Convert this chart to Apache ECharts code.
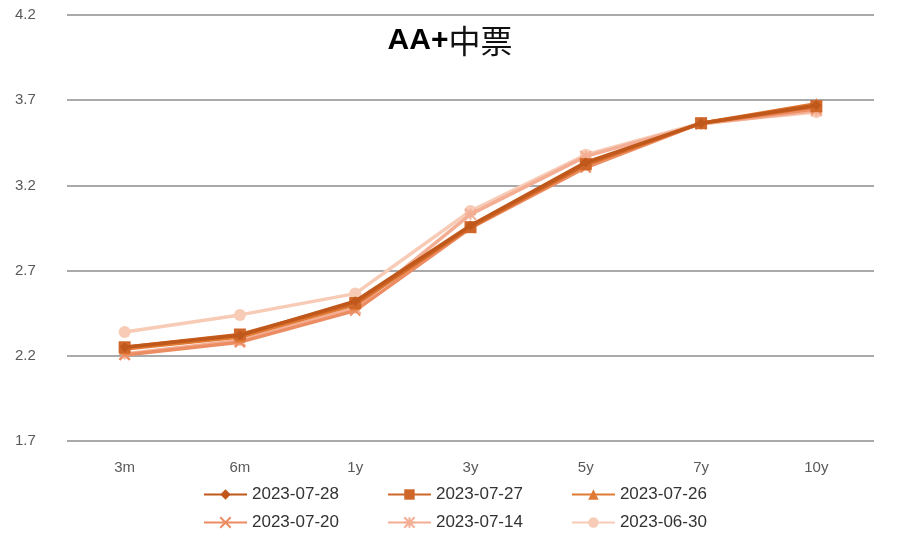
<!DOCTYPE html>
<html>
<head>
<meta charset="utf-8">
<script src="https://cdn.jsdelivr.net/npm/echarts@6/dist/echarts.min.js"></script>
<style>
  html, body { margin: 0; padding: 0; background: #fff; }
  #main { width: 900px; height: 551px; }
</style>
</head>
<body>
<div id="main"></div>
<script>
// 期限
var categories = ['3m', '6m', '1y', '3y', '5y', '7y', '10y'];
// 各日期收益率
var s0728 = [2.25, 2.32, 2.52, 2.965, 3.335, 3.565, 3.67];
var s0727 = [2.25, 2.325, 2.51, 2.955, 3.325, 3.565, 3.665];
var s0726 = [2.24, 2.31, 2.50, 2.955, 3.32, 3.565, 3.68];
var s0720 = [2.205, 2.28, 2.465, 2.95, 3.305, 3.565, 3.65];
var s0714 = [2.21, 2.29, 2.48, 3.03, 3.37, 3.56, 3.64];
var s0630 = [2.34, 2.44, 2.565, 3.05, 3.38, 3.565, 3.63];
var yTicks = [1.7, 2.2, 2.7, 3.2, 3.7, 4.2];

var names = ['2023-07-28', '2023-07-27', '2023-07-26', '2023-07-20', '2023-07-14', '2023-06-30'];
var lists = [s0728, s0727, s0726, s0720, s0714, s0630];
var colors = ['#c0581b', '#d0672a', '#e07a35', '#ec8c62', '#f3ae94', '#f7cbb5'];
var symbols = ['diamond', 'rect', 'triangle',
  'path://M0,0 L2,2 M2,0 L0,2',
  'path://M1,0 L1,2 M0,0 L2,2 M2,0 L0,2 M0,1 L2,1',
  'circle'];
var symSizes = [10, 12, 11, 10, 11, 12];

var seriesData = [];
for (var i = 0; i < names.length; i++) {
  var isLine = i === 3 || i === 4;
  seriesData.push({
    name: names[i],
    type: 'line',
    data: lists[i],
    symbol: symbols[i],
    symbolSize: symSizes[i],
    z: 10 - i,
    lineStyle: { color: colors[i], width: 3.5 },
    itemStyle: isLine ? { color: colors[i], borderColor: colors[i], borderWidth: 2 } : { color: colors[i] }
  });
}

var myChart = echarts.init(document.getElementById('main'));
var legendBase = {
  itemWidth: 43,
  itemHeight: 13,
  itemGap: 48,
  textStyle: { fontSize: 17, color: '#333', fontFamily: 'Liberation Sans, Arial' }
};
myChart.setOption({
  animation: false,
  title: {
    text: '{a|AA+}{b|中票}',
    left: 'center',
    top: 20,
    textStyle: {
      rich: {
        a: { fontSize: 30, fontWeight: 'bold', color: '#000', fontFamily: 'Liberation Sans, Arial' },
        b: { fontSize: 32, fontWeight: 'normal', color: '#111', fontFamily: 'Noto Sans CJK SC' }
      }
    }
  },
  grid: { left: 67, right: 26, top: 15, bottom: 110 },
  legend: [
    Object.assign({ left: 198, top: 481, data: names.slice(0, 3) }, legendBase),
    Object.assign({ left: 198, top: 509, data: names.slice(3) }, legendBase)
  ],
  xAxis: {
    type: 'category',
    data: categories,
    axisLine: { show: false },
    axisTick: { show: false },
    axisLabel: { color: '#595959', fontSize: 15, margin: 19, fontFamily: 'Liberation Sans, Arial' }
  },
  yAxis: {
    type: 'value',
    min: yTicks[0],
    max: yTicks[yTicks.length - 1],
    interval: 0.5,
    axisLine: { show: false },
    axisTick: { show: false },
    axisLabel: {
      color: '#595959', fontSize: 15, margin: 52, align: 'left',
      fontFamily: 'Liberation Sans, Arial',
      formatter: function (v) { return v.toFixed(1); }
    },
    splitLine: { lineStyle: { color: '#8c8c8c', width: 1.5 } }
  },
  series: seriesData
});
</script>
</body>
</html>
